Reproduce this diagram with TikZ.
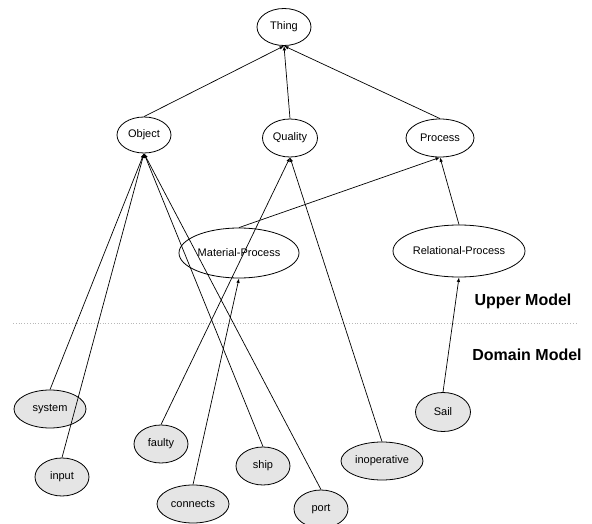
\documentclass[tikz,border=0pt]{standalone}
\usepackage{fontspec}
\setmainfont{Liberation Sans}
\usetikzlibrary{shapes.geometric,arrows.meta}
\definecolor{domgray}{HTML}{E5E5E5}
\definecolor{sepgray}{HTML}{B8B8B8}
\begin{document}
\begin{tikzpicture}[x=1pt,y=-1pt,
  concept/.style={ellipse,draw=black,line width=0.8pt,inner sep=0pt,font=\fontsize{11}{13}\selectfont},
  dombox/.style={concept,fill=domgray},
  isa/.style={draw=black,line width=0.7pt,-{Latex[length=4.5pt,width=3.5pt]}},
  modellabel/.style={font=\fontsize{16}{19}\selectfont\bfseries}
]
\useasboundingbox (0,0) rectangle (592,524);
% upper model
\node[concept,minimum width=54pt,minimum height=37pt] (Thing) at (284,27) {Thing};
\node[concept,minimum width=54pt,minimum height=36pt] (Object) at (144,135) {Object};
\node[concept,minimum width=55pt,minimum height=38pt] (Quality) at (290,138) {Quality};
\node[concept,minimum width=68pt,minimum height=38pt] (Process) at (440,138) {Process};
\node[concept,minimum width=120pt,minimum height=50pt] (MatProc) at (239,253) {Material-Process};
\node[concept,minimum width=132pt,minimum height=52pt] (RelProc) at (459,251) {Relational-Process};
% domain model
\node[dombox,minimum width=72pt,minimum height=38pt] (system) at (50,409) {system};
\node[dombox,minimum width=54pt,minimum height=38pt] (input) at (62,477) {input};
\node[dombox,minimum width=54pt,minimum height=38pt] (faulty) at (161,444) {faulty};
\node[dombox,minimum width=72pt,minimum height=38pt] (connects) at (193,504) {connects};
\node[dombox,minimum width=54pt,minimum height=38pt] (ship) at (263,466) {ship};
\node[dombox,minimum width=54pt,minimum height=38pt] (port) at (321,509) {port};
\node[dombox,minimum width=82pt,minimum height=38pt] (inoperative) at (382,461) {inoperative};
\node[dombox,minimum width=55pt,minimum height=39pt] (Sail) at (443,412) {Sail};
% separator and labels
\coordinate (sepL) at (13,323);
\coordinate (sepR) at (577,323);
\draw[sepgray,dotted,line width=0.8pt] (sepL) -- (sepR);
\node[modellabel] (upper) at (523,301) {Upper Model};
\node[modellabel] (dommodel) at (527,355) {Domain Model};
% links
\draw[isa] (Object.north) -- (Thing.south);
\draw[isa] (Quality.north) -- (Thing.south);
\draw[isa] (Process.north) -- (Thing.south);
\draw[isa] (MatProc.north) -- (Process.south);
\draw[isa] (RelProc.north) -- (Process.south);
\draw[isa] (system.north) -- (Object.south);
\draw[isa] (input.north) -- (Object.south);
\draw[isa] (ship.north) -- (Object.south);
\draw[isa] (port.north) -- (Object.south);
\draw[isa] (faulty.north) -- (Quality.south);
\draw[isa] (inoperative.north) -- (Quality.south);
\draw[isa] (connects.north) -- (MatProc.south);
\draw[isa] (Sail.north) -- (RelProc.south);
\end{tikzpicture}
\end{document}
